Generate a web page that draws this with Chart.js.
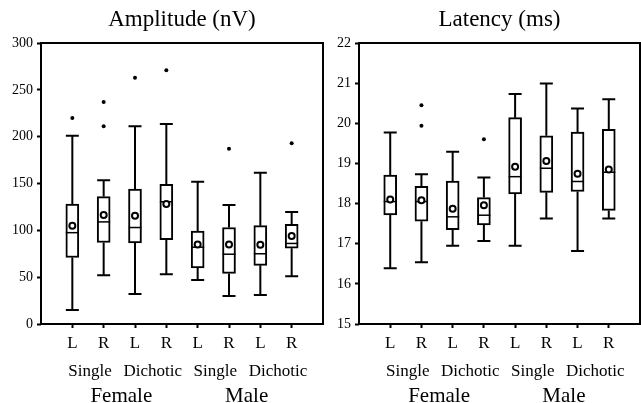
<!doctype html>
<html>

<head>
	<title>Amplitude and Latency</title>
	<script src="https://cdn.jsdelivr.net/npm/chart.js@4"></script>
	<style>
	body {
		margin: 0;
		background: #fff;
		overflow: hidden;
	}
	canvas {
		position: absolute;
		top: 0;
	}
	#amp {
		left: 0;
	}
	#lat {
		left: 330px;
	}
	</style>
</head>

<body>
	<canvas id="amp" width="330" height="403"></canvas>
	<canvas id="lat" width="316" height="403"></canvas>
	<script>
		var sideLabels = ['L', 'R', 'L', 'R', 'L', 'R', 'L', 'R'];
		var modeLabels = ['Single', 'Dichotic', 'Single', 'Dichotic'];
		var sexLabels = ['Female', 'Male'];

		// Amplitude (nV)
		var ampMin = [15, 52, 32, 53, 47, 30, 31, 51];
		var ampQ1 = [71, 87, 86.5, 90, 60, 54, 62.6, 81];
		var ampMedian = [97.5, 109, 103, 130.5, 82, 74.5, 75, 86];
		var ampQ3 = [128, 136, 144, 149, 99.3, 103, 105, 106.5];
		var ampMax = [201, 153.5, 211, 213.5, 152, 127, 161.5, 119.6];
		var ampMean = [104.8, 116.4, 115.6, 128, 85, 85, 84.7, 94];
		var ampOutliers = [[220], [237, 211], [263], [271], [], [187], [], [193]];

		// Latency (ms)
		var latMin = [16.39, 16.54, 16.95, 17.07, 16.95, 17.63, 16.82, 17.63];
		var latQ1 = [17.72, 17.56, 17.35, 17.47, 18.24, 18.28, 18.3, 17.83];
		var latMedian = [18.05, 18.05, 17.67, 17.71, 18.67, 18.88, 18.55, 18.78];
		var latQ3 = [18.71, 18.43, 18.56, 18.15, 20.14, 19.69, 19.78, 19.85];
		var latMax = [19.77, 18.73, 19.29, 18.65, 20.73, 20.99, 20.37, 20.6];
		var latMean = [18.1, 18.08, 17.87, 17.96, 18.92, 19.06, 18.74, 18.85];
		var latOutliers = [[], [20.45, 19.94], [], [19.6], [], [], [], []];

		Chart.defaults.font.family = "'Liberation Serif', 'DejaVu Serif', serif";
		Chart.defaults.color = '#000';

		function makeChart(id, cfg) {
			var boxes = cfg.q1.map(function(v, i) {
				return {x: i + 1, y: [cfg.q1[i], cfg.q3[i]]};
			});
			var means = cfg.mean.map(function(v, i) {
				return {x: i + 1, y: v};
			});
			var outliers = [];
			cfg.outliers.forEach(function(list, i) {
				list.forEach(function(v) {
					outliers.push({x: i + 1, y: v});
				});
			});

			var boxPlot = {
				id: 'boxPlot',
				afterDatasetDraw: function(chart, args) {
					if (args.meta.type !== 'bar') {
						return;
					}
					var xs = chart.scales.x;
					var ys = chart.scales.y;
					var ctx = chart.ctx;
					var half = 6.5;
					ctx.save();
					ctx.strokeStyle = '#000';
					ctx.lineCap = 'butt';
					for (var i = 0; i < cfg.q1.length; i++) {
						var px = xs.getPixelForValue(i + 1);
						var top = ys.getPixelForValue(cfg.max[i]);
						var q3 = ys.getPixelForValue(cfg.q3[i]);
						var q1 = ys.getPixelForValue(cfg.q1[i]);
						var bot = ys.getPixelForValue(cfg.min[i]);
						var med = ys.getPixelForValue(cfg.median[i]);
						ctx.lineWidth = 2;
						ctx.beginPath();
						ctx.moveTo(px, q3);
						ctx.lineTo(px, top);
						ctx.moveTo(px - half, top);
						ctx.lineTo(px + half, top);
						ctx.moveTo(px, q1);
						ctx.lineTo(px, bot);
						ctx.moveTo(px - half, bot);
						ctx.lineTo(px + half, bot);
						ctx.stroke();
						ctx.lineWidth = 1.5;
						ctx.beginPath();
						ctx.moveTo(px - half, med);
						ctx.lineTo(px + half, med);
						ctx.stroke();
					}
					ctx.restore();
				},
				afterDraw: function(chart) {
					var a = chart.chartArea;
					var xs = chart.scales.x;
					var ctx = chart.ctx;
					ctx.save();
					ctx.strokeStyle = '#000';
					ctx.lineWidth = 2;
					ctx.strokeRect(a.left, a.top, a.right - a.left, a.bottom - a.top);
					ctx.fillStyle = '#000';
					ctx.textAlign = 'center';
					ctx.textBaseline = 'alphabetic';
					ctx.font = "17px 'Liberation Serif', serif";
					modeLabels.forEach(function(t, i) {
						ctx.fillText(t, xs.getPixelForValue(1.5 + i * 2) + 2, 376);
					});
					ctx.font = "21px 'Liberation Serif', serif";
					sexLabels.forEach(function(t, i) {
						ctx.fillText(t, xs.getPixelForValue(2.5 + i * 4) + 2, 402);
					});
					ctx.restore();
				}
			};

			return new Chart(document.getElementById(id), {
				type: 'bar',
				data: {
					datasets: [{
						type: 'scatter',
						data: means,
						order: 0,
						pointRadius: 3,
						pointBorderWidth: 2,
						pointBorderColor: '#000',
						pointBackgroundColor: '#fff'
					}, {
						type: 'scatter',
						data: outliers,
						order: 1,
						pointRadius: 2,
						pointBorderWidth: 0,
						pointBackgroundColor: '#000'
					}, {
						type: 'bar',
						data: boxes,
						order: 2,
						barThickness: 13,
						backgroundColor: '#fff',
						borderColor: '#000',
						borderWidth: 2,
						borderSkipped: false
					}]
				},
				options: {
					responsive: false,
					animation: false,
					devicePixelRatio: 1,
					layout: {
						padding: {top: 0, right: cfg.padRight, bottom: 0, left: 0}
					},
					plugins: {
						legend: {display: false},
						tooltip: {enabled: false},
						title: {
							display: true,
							text: cfg.title,
							fullSize: false,
							font: {size: 23, weight: 'normal'},
							padding: {top: 6, bottom: 9.4}
						}
					},
					scales: {
						x: {
							type: 'linear',
							min: 0,
							max: 9,
							offset: false,
							afterFit: function(scale) {
								scale.height = 79;
							},
							border: {display: false},
							grid: {
								offset: false,
								drawOnChartArea: false,
								tickLength: 4,
								tickWidth: 2,
								tickColor: function(c) {
									var v = c.tick ? c.tick.value : 0;
									return (v < 1 || v > 8) ? 'rgba(0,0,0,0)' : '#000';
								}
							},
							ticks: {
								stepSize: 1,
								maxRotation: 0,
								autoSkip: false,
								padding: 5,
								font: {size: 17},
								callback: function(v) {
									return sideLabels[v - 1] || '';
								}
							}
						},
						y: {
							min: cfg.yMin,
							max: cfg.yMax,
							afterFit: function(scale) {
								scale.width = cfg.yWidth;
							},
							border: {display: false},
							grid: {
								drawOnChartArea: false,
								tickLength: 4,
								tickWidth: 2,
								tickColor: '#000'
							},
							ticks: {
								stepSize: cfg.step,
								padding: 4,
								font: {size: 14}
							}
						}
					}
				},
				plugins: [boxPlot]
			});
		}

		makeChart('amp', {
			title: 'Amplitude (nV)',
			min: ampMin, q1: ampQ1, median: ampMedian, q3: ampQ3, max: ampMax,
			mean: ampMean, outliers: ampOutliers,
			yMin: 0, yMax: 300, step: 50, yWidth: 41, padRight: 7
		});

		makeChart('lat', {
			title: 'Latency (ms)',
			min: latMin, q1: latQ1, median: latMedian, q3: latQ3, max: latMax,
			mean: latMean, outliers: latOutliers,
			yMin: 15, yMax: 22, step: 1, yWidth: 29, padRight: 6
		});
	</script>
</body>

</html>
